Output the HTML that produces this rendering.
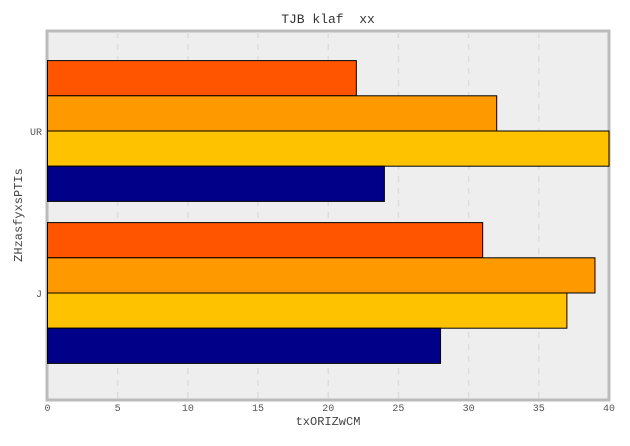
<!DOCTYPE html>
<html><head><meta charset="utf-8"><style>
body{margin:0;background:#fff;}
svg text{font-family:"Liberation Mono",monospace;white-space:pre;}
</style></head><body>
<svg id="c" width="630" height="441" xmlns="http://www.w3.org/2000/svg">
<rect x="47" y="31" width="562" height="369" fill="#eeeeee" stroke="#bbbbbb" stroke-width="3"/>
<g id="grid"></g><g id="bars"></g><g id="ticks"></g>
<text x="328" y="23" text-anchor="middle" font-size="13" fill="#333" xml:space="preserve">TJB klaf  xx</text>
<text x="328" y="425" text-anchor="middle" font-size="12" fill="#444">txORIZwCM</text>
<text x="22" y="215" text-anchor="middle" font-size="12" fill="#444" transform="rotate(-90 22 215)">ZHzasfyxsPTIs</text>
</svg>
<script>
const categories=["UR","J"];
const seriesA=[22,31];
const seriesB=[32,39];
const seriesC=[40,37];
const seriesD=[24,28];
const xTicks=[0,5,10,15,20,25,30,35,40];
const colors=["#ff5500","#ff9900","#ffc200","#000088"];
const series=[seriesA,seriesB,seriesC,seriesD];
const NS="http://www.w3.org/2000/svg";
const X0=47.5,X1=609,Y0=32,Y1=399;
const xs=v=>X0+(X1-X0)*v/40;
const catY=[131,293];
const barH=35.2;
const grid=document.getElementById('grid'),bars=document.getElementById('bars'),ticks=document.getElementById('ticks');
xTicks.forEach(t=>{
  const x=xs(t);
  if(t>0&&t<40){const l=document.createElementNS(NS,'line');
  l.setAttribute('x1',x);l.setAttribute('x2',x);l.setAttribute('y1',Y0);l.setAttribute('y2',Y1);
  l.setAttribute('stroke','#dddddd');l.setAttribute('stroke-dasharray','6,6');l.setAttribute('stroke-width','1.5');
  
  
  grid.appendChild(l);}
  const tx=document.createElementNS(NS,'text');
  tx.setAttribute('x',x);tx.setAttribute('y',411);tx.setAttribute('text-anchor','middle');
  tx.setAttribute('font-size','10');tx.setAttribute('fill','#555');tx.textContent=t;
  
  
  ticks.appendChild(tx);
});
categories.forEach((c,i)=>{
  const cy=catY[i];
  const tx=document.createElementNS(NS,'text');
  tx.setAttribute('x',42);tx.setAttribute('y',cy+4);tx.setAttribute('text-anchor','end');
  tx.setAttribute('font-size','10');tx.setAttribute('fill','#555');tx.textContent=c;
  
  
  ticks.appendChild(tx);
  series.forEach((s,j)=>{
    const r=document.createElementNS(NS,'rect');
    const y=cy-2*barH+j*barH;
    r.setAttribute('x',xs(0));r.setAttribute('y',y);
    r.setAttribute('width',xs(s[i])-xs(0));r.setAttribute('height',barH);
    r.setAttribute('fill',colors[j]);r.setAttribute('stroke','#000');r.setAttribute('stroke-width','1');
    
    
    bars.appendChild(r);
  });
});
</script>
</body></html>
